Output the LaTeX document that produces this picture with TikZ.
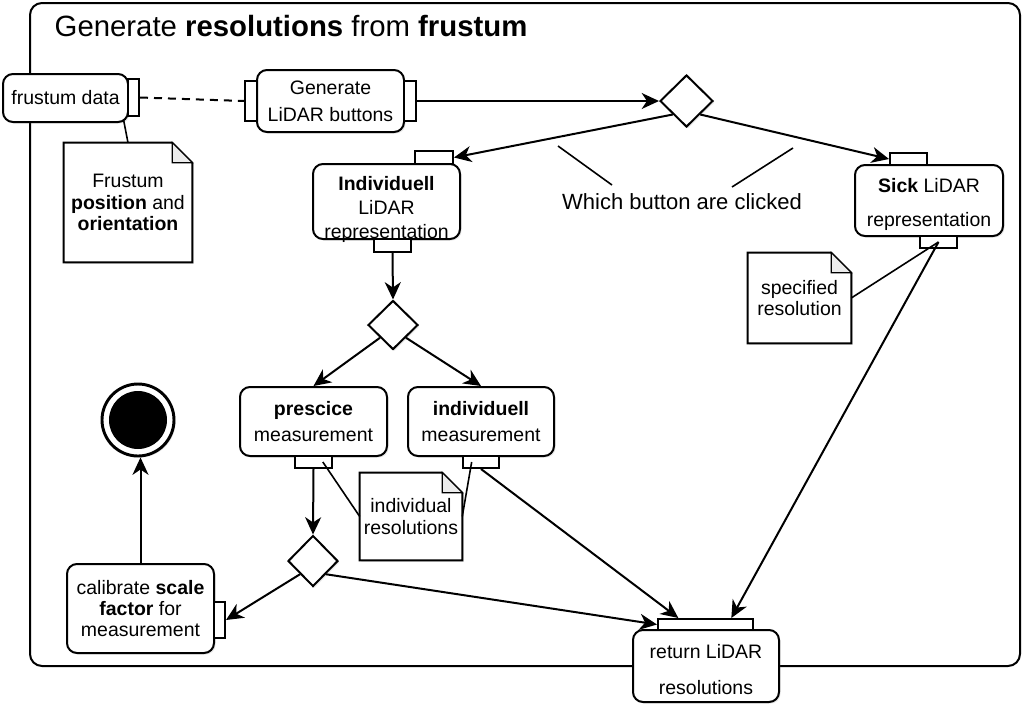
\documentclass[tikz,border=0pt]{standalone}
\usepackage{fontspec}
\setmainfont{Liberation Sans}
\usetikzlibrary{arrows.meta,shapes.geometric,shadows}
\newcommand{\nodefont}{\fontsize{14.6}{16}\selectfont}
\tikzstyle{soft} = [drop shadow={opacity=0.18,shadow xshift=1.2pt,shadow yshift=-1.2pt}]
\tikzstyle{action} = [draw,fill=white,soft,rounded corners=7.5pt,line width=1.5pt,align=center,inner sep=0pt,font=\nodefont]
\tikzstyle{port} = [draw,fill=white,line width=1.5pt,inner sep=0pt]
\tikzstyle{decision} = [draw,fill=white,soft,diamond,line width=1.5pt,inner sep=0pt]
\tikzstyle{memo} = [align=center,inner sep=0pt,font=\nodefont]
\tikzstyle{flow} = [line width=1.5pt,-{Stealth[length=13pt,width=12pt,inset=4pt]}]
\tikzstyle{link} = [line width=1.2pt]
\pgfdeclarelayer{background}
\pgfsetlayers{background,main}
% note outline with folded corner
\newcommand{\memobox}[1]{%
  \begin{pgfonlayer}{background}
  \draw[line width=1.5pt,fill=white,soft] (#1.south west) -- (#1.north west) -- ([xshift=-15pt]#1.north east)
    -- ([yshift=-15pt]#1.north east) -- (#1.south east) -- cycle;
  \draw[line width=0.8pt,fill=gray!15] ([xshift=-15pt]#1.north east) -- ([xshift=-15pt,yshift=-15pt]#1.north east)
    -- ([yshift=-15pt]#1.north east) -- cycle;
  \end{pgfonlayer}}

\begin{document}
\begin{tikzpicture}[x=0.75pt,y=-0.75pt]
  \useasboundingbox (0,0) rectangle (1026,704);
  \draw[line width=1.5pt,rounded corners=9pt] (30,3) rectangle (1020,666);
  \node[anchor=west,font=\fontsize{22}{26}\selectfont] (title) at (50,26) {Generate \textbf{resolutions} from \textbf{frustum}};

  % actions
  \node[action,minimum width=93.75pt,minimum height=36pt] (fdata) at (65.5,98) {frustum data};
  \node[port,minimum width=8.25pt,minimum height=27.75pt] (fdatapin) at (133.5,97.5) {};
  \node[action,minimum width=110.25pt,minimum height=46.5pt] (gen) at (330.5,101) {Generate\\[4pt]LiDAR buttons};
  \node[port,minimum width=9pt,minimum height=30pt] (genin) at (251,101) {};
  \node[port,minimum width=9pt,minimum height=30pt] (genout) at (410,101) {};
  \node[decision,minimum width=39.75pt,minimum height=39pt] (dec1) at (686.5,101) {};

  \node[action,minimum width=110.25pt,minimum height=56.25pt] (indiv) at (386.5,201.5) {};
  \node[memo] (indivtext) at ([yshift=-6pt]indiv.center) {\textbf{Individuell}\\[2pt]LiDAR\\[2pt]representation};
  \node[port,minimum width=28.5pt,minimum height=9.75pt] (indivtop) at (434,157.5) {};
  \node[port,minimum width=27.75pt,minimum height=9.75pt] (indivbot) at (392.5,245.5) {};
  \node[decision,minimum width=37.5pt,minimum height=36.75pt] (dec2) at (393,325) {};

  \node[action,minimum width=110.25pt,minimum height=51.75pt] (presc) at (313.5,421.5) {\textbf{prescice}\\[3.5pt]measurement};
  \node[port,minimum width=27.75pt,minimum height=9pt] (prescpin) at (313.5,462) {};
  \node[action,minimum width=109.5pt,minimum height=51.75pt] (indm) at (481,421.5) {\textbf{individuell}\\[3.5pt]measurement};
  \node[port,minimum width=27pt,minimum height=9pt] (indmpin) at (481,462) {};
  \node[decision,minimum width=37.5pt,minimum height=38.25pt] (dec3) at (313,561) {};

  \node[action,minimum width=110.25pt,minimum height=66.75pt] (calib) at (140.5,608.5) {calibrate \textbf{scale}\\\textbf{factor} for\\measurement};
  \node[port,minimum width=8.25pt,minimum height=27pt] (calibpin) at (219.5,620) {};
  \node[circle,draw,fill=white,soft,line width=2.2pt,minimum size=54pt] (final) at (138,420) {};
  \node[circle,fill=black,inner sep=0pt,minimum size=43.5pt] (finaldot) at (final) {};

  \node[action,minimum width=109.5pt,minimum height=54pt] (ret) at (706,666) {};
  \node[memo] (rettext) at ([yshift=-3pt]ret.center) {return LiDAR\\[11pt]resolutions};
  \node[port,minimum width=71.25pt,minimum height=8.25pt] (retpin) at (705.5,624.5) {};

  \node[action,minimum width=111pt,minimum height=53.25pt] (sick) at (929,200.5) {};
  \node[memo] (sicktext) at ([yshift=-3pt]sick.center) {\textbf{Sick} LiDAR\\[10pt]representation};
  \node[port,minimum width=27.75pt,minimum height=9pt] (sicktop) at (908.5,159) {};
  \node[port,minimum width=27.75pt,minimum height=9pt] (sickbot) at (938.5,242) {};

  % notes
  \node[memo,minimum width=96pt,minimum height=89.25pt] (note1) at (128,202.5) {Frustum\\\textbf{position} and\\\textbf{orientation}};
  \memobox{note1}
  \node[memo,minimum width=76.5pt,minimum height=65.25pt] (note2) at (411,516.5) {individual\\resolutions};
  \memobox{note2}
  \node[memo,minimum width=77.25pt,minimum height=67.5pt] (note3) at (799.5,298) {specified\\resolution};
  \memobox{note3}

  \node[font=\fontsize{16.5}{19}\selectfont] (which) at (682,202) {Which button are clicked};
  \coordinate (wl1) at (558,146);
  \coordinate (wl2) at (612,185);
  \coordinate (wr1) at (793,148);
  \coordinate (wr2) at (732,187);
  \draw[link] (wl1) -- (wl2);
  \draw[link] (wr1) -- (wr2);

  % connectors
  \draw[line width=1.5pt,dash pattern=on 6pt off 4.5pt] (fdatapin.east) -- (genin.west);
  \draw[link] (note1.north) -- ([xshift=-4pt,yshift=2pt]fdata.south east);
  \draw[flow] (genout.east) -- (dec1.west);
  \draw[flow] (dec1.south west) -- (indivtop.east);
  \draw[flow] (dec1.south east) -- (sicktop.west);
  \draw[flow] (indivbot.south) -- (dec2.north);
  \draw[flow] (dec2.south west) -- (presc.north);
  \draw[flow] (dec2.south east) -- (indm.north);
  \draw[link] (note2.west) -- ([xshift=7pt]prescpin.center);
  \draw[link] (note2.east) -- ([xshift=-7pt]indmpin.center);
  \draw[flow] (prescpin.south) -- (dec3.north);
  \draw[flow] (dec3.south west) -- (calibpin.east);
  \draw[flow] (dec3.south east) -- (retpin.west);
  \draw[flow] (indmpin.south) -- ([xshift=16pt]retpin.north west);
  \draw[link] (note3.east) -- (sickbot.center);
  \draw[flow] (sickbot.center) -- ([xshift=-17pt]retpin.north east);
  \draw[flow] (calib.north) -- (calib.north |- final.south);
\end{tikzpicture}
\end{document}
